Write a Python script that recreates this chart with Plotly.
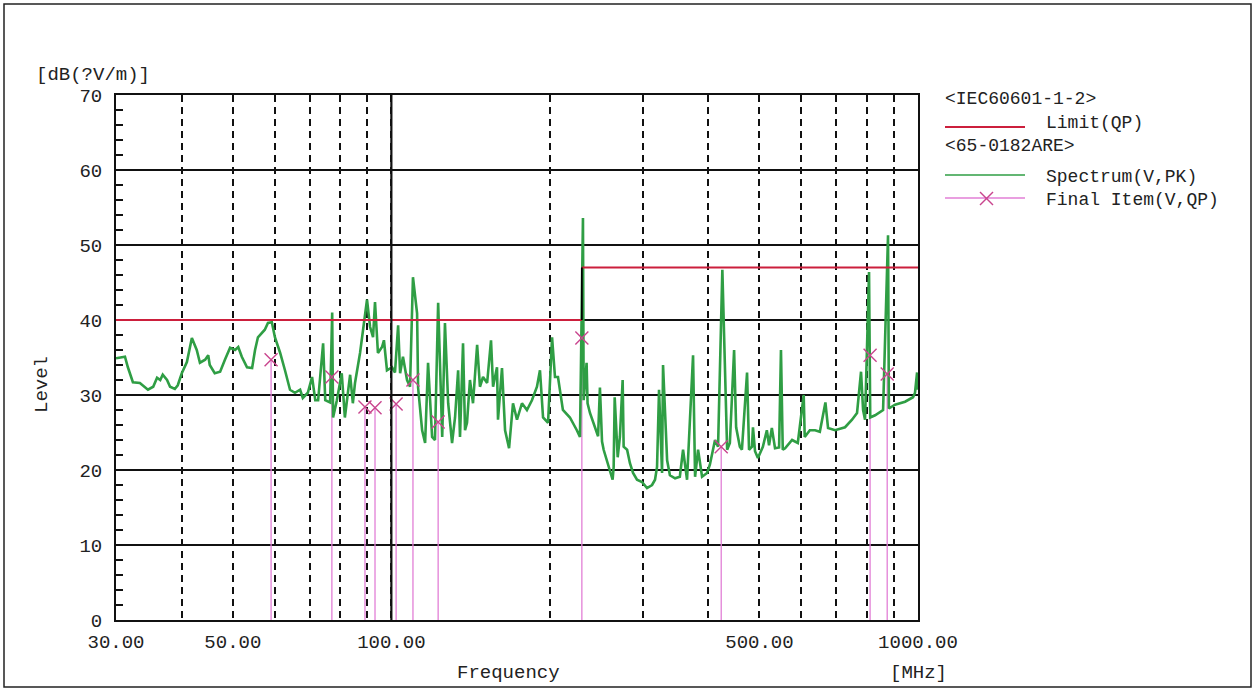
import plotly.graph_objects as go
import math

# ---------------- data ----------------
spec_freq = [30.0, 31.2, 31.6, 32.3, 33.3, 34.5, 35.3, 35.9, 36.4, 36.8, 37.5, 38.0, 38.8, 39.3,
             40.0, 40.9, 41.8, 42.7, 43.3, 44.3, 44.9, 45.2, 46.2, 47.3, 48.3, 49.4, 50.5, 51.2,
             52.0, 53.2, 54.4, 55.1, 55.8, 56.7, 57.5, 58.3, 59.3, 60.1, 61.5, 62.8, 64.2, 65.6,
             67.1, 67.9, 69.4, 70.7, 71.7, 72.6, 74.2, 74.9, 76.5, 77.2, 77.5, 78.8, 80.5, 81.6,
             83.5, 84.5,
             85.3, 87.2, 88.3, 89.9, 91.1, 92.3, 93.1, 94.3, 96.0, 96.8, 98.1, 100.3, 101.6, 103.0,
             103.9, 105.2, 107.1, 108.5, 109.9, 111.9, 112.4, 114.4, 115.9, 117.4, 119.5, 121.0,
             122.7, 124.9, 126.4, 128.2, 130.4, 132.1, 133.9, 135.0, 136.8, 138.0, 139.2, 141.0,
             142.9, 145.5, 147.3, 149.3, 152.0, 154.6, 156.0, 158.7, 159.4, 162.2, 164.4, 167.3,
             170.2, 173.2, 177.0, 180.9, 184.9, 189.0, 191.5, 194.1, 198.4, 201.9, 204.5, 207.2,
             211.7, 218.3, 225.0, 228.1, 231.1, 231.8, 234.8, 235.8, 238.3, 243.7, 246.9, 248.9,
             251.2, 253.0, 258.6, 263.1, 264.3, 265.5, 269.0, 271.6, 274.9, 276.1, 280.3, 283.8,
             287.7, 292.7, 299.2, 305.8, 312.6, 316.7, 319.5, 322.3, 326.6, 328.0, 333.9, 338.0,
             345.7, 353.0, 358.0, 364.3, 374.0, 377.3, 382.3, 389.0, 397.6, 402.5, 411.7, 417.2,
             425.1, 434.1, 439.3, 447.5, 451.5, 458.9, 463.1, 473.6, 477.7, 483.9, 486.0, 490.4,
             496.6, 507.5, 516.4, 521.4, 527.8, 535.2, 544.8, 549.3, 553.6, 559.3, 576.6, 591.2,
             606.7, 609.4, 623.2, 637.6, 651.0, 667.1, 674.8, 695.8, 726.9, 749.4, 766.0, 779.5,
             786.6, 793.3, 807.3, 811.5, 828.9, 858.4, 877.2, 880.5, 904.4, 945.0, 978.6, 987.0,
             996.0, 1000.0]
spec_level = [34.9, 35.1, 33.7, 31.7, 31.6, 30.7, 31.1, 32.3, 32.0, 32.7, 32.0, 31.1, 30.8, 31.3,
              32.9, 34.4, 37.6, 36.0, 34.3, 34.7, 35.3, 34.0, 32.9, 33.1, 34.7, 36.3, 36.0, 36.4,
              35.1, 33.7, 33.6, 36.0, 37.7, 38.3, 38.7, 39.6, 39.7, 37.7, 35.6, 33.3, 30.7, 30.3,
              30.7, 29.6, 30.3, 32.4, 29.3, 29.3, 36.9, 29.3, 29.0, 41.0, 27.0, 29.3, 32.9, 27.0,
              32.7, 28.9,
              31.6, 35.6, 38.3, 42.7, 39.1, 37.7, 42.4, 35.6, 36.4, 37.3, 33.3, 33.7, 33.0, 39.3,
              32.9, 35.1, 32.0, 31.1, 45.7, 40.9, 31.0, 25.3, 23.6, 34.3, 24.4, 24.0,
              42.3, 24.4, 39.6, 28.9, 23.6, 27.0, 33.3, 24.4, 36.9, 25.3, 26.3, 32.0,
              28.9, 36.7, 31.1, 32.4, 31.6, 37.3, 31.1, 33.7, 26.7, 33.6, 25.3, 22.9,
              28.9, 26.7, 28.9, 28.0, 29.3, 31.1, 33.3, 27.0, 26.3, 37.7, 32.4, 32.4,
              28.0, 27.0, 25.3, 24.4, 53.6, 29.3, 34.3, 28.9, 27.6, 25.7, 24.5, 31.0,
              23.8, 22.7, 20.3, 18.7, 20.4, 29.7, 21.7, 24.4, 32.0, 23.1, 22.7, 20.9,
              19.6, 18.7, 18.4, 17.6, 18.0, 18.7, 20.4, 30.7, 19.6, 34.0, 21.3, 19.3,
              18.9, 19.1, 22.7, 18.7, 35.3, 19.1, 22.7, 19.1, 19.6, 20.7, 24.0, 23.1,
              46.7, 22.7, 23.6, 36.0, 25.7, 23.1, 22.7, 33.0, 22.7, 23.1, 25.7, 22.5,
              21.6, 23.1, 25.3, 23.3, 25.6, 22.9, 23.0, 36.0, 22.7, 22.9, 24.0, 23.6,
              30.0, 24.4, 25.3, 25.3, 25.1, 29.0, 25.6, 25.3, 25.7, 26.7, 27.6, 33.1,
              28.0, 26.7, 46.4, 27.0, 27.3, 28.0, 51.3, 28.2, 28.7, 29.1, 29.7, 30.3,
              33.0, 30.7]

limit_freq = [30.0, 230.0, 230.0, 1000.0]
limit_level = [40.0, 40.0, 47.0, 47.0]

final_freq = [59.1, 77.1, 89.1, 93.1, 102.1, 109.9, 122.7, 230.0, 423.0, 811.0, 874.0]
final_level = [34.7, 32.4, 28.4, 28.3, 28.8, 32.0, 26.4, 37.6, 23.1, 35.3, 32.8]

grid_freq = [30, 40, 50, 60, 70, 80, 90, 100, 200, 300, 400, 500, 600, 700, 800, 900, 1000]
grid_text = ["30.00", "", "50.00", "", "", "", "", "100.00", "", "", "", "500.00", "", "", "", "", "1000.00"]

# ---------------- styling ----------------
FONT = "Liberation Mono"
GREEN = "#2f9e44"
RED = "#cc1f3c"
STEM = "#e27fd6"
MARK = "#c9458e"

# pixel geometry of plot area
L, R, T, B = 116, 918, 95, 620
W, H = 1256, 691
def px(x):
    return (x - L) / (R - L)
def py(y):
    return (B - y) / (B - T)

fig = go.Figure()

# final item stems
stem_x, stem_y = [], []
for f, v in zip(final_freq, final_level):
    stem_x += [f, f, None]
    stem_y += [0, v, None]
fig.add_trace(go.Scatter(x=stem_x, y=stem_y, mode="lines",
                         line=dict(color=STEM, width=1.3), hoverinfo="skip"))

# spectrum
fig.add_trace(go.Scatter(x=spec_freq, y=spec_level, mode="lines",
                         line=dict(color=GREEN, width=2.6), name="Spectrum(V,PK)"))

# limit: horizontal red segments, black connecting step
fig.add_trace(go.Scatter(x=limit_freq[0:2] + [None] + limit_freq[2:4],
                         y=limit_level[0:2] + [None] + limit_level[2:4],
                         mode="lines", line=dict(color=RED, width=2.2), name="Limit(QP)"))
fig.add_trace(go.Scatter(x=limit_freq[1:3], y=limit_level[1:3], mode="lines",
                         line=dict(color="black", width=1.8), hoverinfo="skip"))

# final item markers
fig.add_trace(go.Scatter(x=final_freq, y=final_level, mode="markers",
                         marker=dict(symbol="x-thin", size=13, line=dict(color=MARK, width=1.4)),
                         name="Final Item(V,QP)"))

fig.update_layout(
    width=W, height=H,
    margin=dict(l=L, r=W - R, t=T, b=H - B),
    paper_bgcolor="white", plot_bgcolor="white",
    showlegend=False,
    font=dict(family=FONT, size=19, color="#222"),
)

fig.update_xaxes(
    type="log", range=[math.log10(30), math.log10(1000)],
    tickmode="array", tickvals=grid_freq, ticktext=grid_text,
    showgrid=True, gridcolor="#111", gridwidth=1.6, griddash="7px,5px",
    ticks="", showline=True, mirror=True, linecolor="#111", linewidth=2,
    tickfont=dict(family=FONT, size=19), zeroline=False, ticklabelstandoff=3,
)
fig.update_yaxes(
    range=[0, 70], tickmode="linear", tick0=0, dtick=10,
    showgrid=True, gridcolor="#111", gridwidth=1.6,
    ticks="", showline=True, mirror=True, linecolor="#111", linewidth=2,
    tickfont=dict(family=FONT, size=19), zeroline=False, ticklabelstandoff=8,
    minor=dict(dtick=2, ticks="inside", ticklen=7, tickcolor="#111", tickwidth=1.5, showgrid=False),
)

shapes = []
# solid decade line at 100 MHz
shapes.append(dict(type="line", xref="x", yref="paper", x0=100, x1=100, y0=0, y1=1,
                   line=dict(color="#111", width=2.2)))
# outer frame
shapes.append(dict(type="rect", xref="paper", yref="paper",
                   x0=px(4), x1=px(1251), y0=py(687), y1=py(4),
                   line=dict(color="#222", width=1.5)))
# legend glyphs
shapes.append(dict(type="line", xref="paper", yref="paper", x0=px(945), x1=px(1025),
                   y0=py(127), y1=py(127), line=dict(color=RED, width=2.2)))
shapes.append(dict(type="line", xref="paper", yref="paper", x0=px(945), x1=px(1025),
                   y0=py(175), y1=py(175), line=dict(color=GREEN, width=1.3)))
shapes.append(dict(type="line", xref="paper", yref="paper", x0=px(945), x1=px(1025),
                   y0=py(198), y1=py(198), line=dict(color=STEM, width=1.3)))
shapes.append(dict(type="line", xref="paper", yref="paper", x0=px(980), x1=px(993),
                   y0=py(192), y1=py(205), line=dict(color=MARK, width=1.4)))
shapes.append(dict(type="line", xref="paper", yref="paper", x0=px(980), x1=px(993),
                   y0=py(205), y1=py(192), line=dict(color=MARK, width=1.4)))
fig.update_layout(shapes=shapes)

def ann(text, x, y, xa="left", ya="middle", angle=0, size=19):
    return dict(text=text, x=px(x), y=py(y), xref="paper", yref="paper",
                xanchor=xa, yanchor=ya, showarrow=False, textangle=angle,
                font=dict(family=FONT, size=size, color="#222"))

fig.update_layout(annotations=[
    ann("[dB(?V/m)]", 34, 75),
    ann("Level", 42, 385, xa="center", angle=-90),
    ann("Frequency", 508, 673, xa="center"),
    ann("[MHz]", 918, 673, xa="center"),
    ann("&lt;IEC60601-1-2&gt;", 943, 99, size=18),
    ann("Limit(QP)", 1044, 123, size=18),
    ann("&lt;65-0182ARE&gt;", 943, 146, size=18),
    ann("Spectrum(V,PK)", 1044, 177, size=18),
    ann("Final Item(V,QP)", 1044, 200, size=18),
])

fig.write_html("out.html", config={"displayModeBar": False},
               post_script="document.body.style.margin='0px';document.body.style.overflow='hidden';")
